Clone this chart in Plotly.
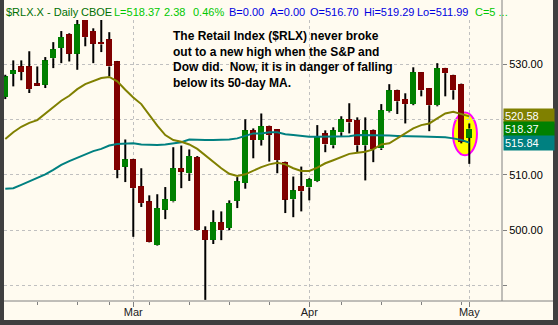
import datetime
import plotly.graph_objects as go

# ---------------- data ----------------
dates = [
    "2007-02-06", "2007-02-07", "2007-02-08", "2007-02-09", "2007-02-12", "2007-02-13",
    "2007-02-14", "2007-02-15", "2007-02-16", "2007-02-20", "2007-02-21", "2007-02-22",
    "2007-02-23", "2007-02-26", "2007-02-27", "2007-02-28", "2007-03-01", "2007-03-02",
    "2007-03-05", "2007-03-06", "2007-03-07", "2007-03-08", "2007-03-09", "2007-03-12",
    "2007-03-13", "2007-03-14", "2007-03-15", "2007-03-16", "2007-03-19", "2007-03-20",
    "2007-03-21", "2007-03-22", "2007-03-23", "2007-03-26", "2007-03-27", "2007-03-28",
    "2007-03-29", "2007-03-30", "2007-04-02", "2007-04-03", "2007-04-04", "2007-04-05",
    "2007-04-09", "2007-04-10", "2007-04-11", "2007-04-12", "2007-04-13", "2007-04-16",
    "2007-04-17", "2007-04-18", "2007-04-19", "2007-04-20", "2007-04-23", "2007-04-24",
    "2007-04-25", "2007-04-26", "2007-04-27", "2007-04-30", "2007-05-01",
]
opens = [
    524.1, 528.25, 529.6, 529.6, 526.55, 526.3, 531.1, 532.95, 535.4, 531.9,
    538.0, 536.0, 534.0, 534.5, 530.5, 511.45, 512.8, 507.95, 505.2, 497.3,
    503.7, 505.2, 511.2, 510.3, 513.2, 500.0, 498.25, 501.45, 500.4, 505.3,
    508.55, 518.05, 516.3, 518.8, 518.25, 512.3, 505.6, 508.0, 507.75, 508.85,
    517.5, 515.35, 517.7, 520.05, 519.9, 515.35, 518.05, 514.8, 521.5, 525.3,
    523.7, 522.8, 528.55, 525.65, 522.6, 529.3, 528.0, 526.4, 516.70,
]
highs = [
    528.1, 530.7, 530.7, 532.35, 529.6, 531.3, 534.0, 536.0, 535.6, 538.6,
    538.6, 536.5, 538.0, 535.8, 530.6, 516.4, 512.9, 511.2, 506.3, 506.5,
    507.8, 515.0, 515.3, 514.6, 513.4, 500.7, 503.6, 503.4, 505.4, 509.6,
    520.05, 518.4, 521.1, 518.9, 518.3, 512.4, 509.7, 511.5, 509.4, 519.0,
    518.05, 518.6, 520.6, 522.95, 520.4, 520.4, 518.2, 522.8, 526.4, 525.4,
    524.75, 529.45, 528.6, 525.7, 530.2, 529.35, 528.1, 526.5, 519.29,
]
lows = [
    523.7, 526.0, 527.1, 524.8, 526.1, 525.7, 529.3, 530.2, 530.5, 529.0,
    533.25, 530.2, 532.2, 527.8, 509.4, 508.7, 498.8, 504.2, 497.8, 497.2,
    502.0, 505.05, 507.6, 508.9, 499.9, 487.4, 497.5, 498.2, 500.0, 504.0,
    507.5, 513.0, 515.3, 512.4, 510.3, 503.1, 502.35, 503.4, 505.4, 508.7,
    514.1, 514.8, 517.0, 517.5, 514.1, 509.0, 512.3, 514.5, 521.3, 521.0,
    519.3, 522.6, 524.2, 517.9, 522.4, 524.2, 523.6, 515.7, 511.99,
]
closes = [
    527.8, 528.9, 528.6, 525.5, 526.2, 530.7, 532.7, 534.9, 531.9, 537.2,
    534.9, 533.7, 533.6, 529.6, 510.9, 512.8, 507.6, 504.9, 497.9, 504.0,
    505.6, 511.2, 510.6, 513.4, 500.0, 498.25, 501.45, 500.0, 504.9, 508.85,
    518.05, 516.3, 518.8, 517.2, 512.65, 505.55, 507.2, 507.05, 509.2, 516.8,
    515.5, 518.05, 520.05, 519.5, 515.35, 518.05, 514.6, 521.7, 525.3, 523.3,
    522.8, 528.55, 525.3, 522.6, 529.3, 528.4, 525.3, 515.99, 518.37,
]
ma20 = [
    516.5, 517.7, 518.7, 519.4, 519.9, 521.1, 522.3, 523.4, 524.3, 525.5, 526.4, 527.0,
    527.5, 527.7, 526.9, 525.4, 524.0, 522.8, 520.8, 518.9, 517.2, 516.3, 516.0, 515.5,
    514.7, 513.5, 512.4, 511.2, 510.2, 509.8, 510.1, 510.8, 511.4, 511.9, 512.2, 511.9,
    511.2, 510.7, 510.7, 511.3, 512.1, 512.65, 513.25, 513.8, 514.0, 514.2, 514.6, 515.5,
    515.7, 516.6, 517.5, 518.4, 519.0, 519.3, 520.2, 521.1, 521.4, 521.0, 520.58,
]
ma50 = [
    507.5, 507.6, 508.2, 508.8, 509.5, 510.1, 510.9, 511.8, 512.5, 513.1, 513.7, 514.3,
    514.7, 515.3, 515.6, 515.7, 515.7, 515.5, 515.4, 515.4, 515.5, 515.7, 515.9, 516.4,
    516.3, 516.3, 516.3, 516.3, 516.4, 516.6, 517.1, 517.5, 517.5, 517.7, 517.7, 517.35,
    517.2, 517.0, 516.9, 516.9, 516.9, 516.9, 516.9, 517.0, 517.2, 517.2, 517.2, 517.2,
    517.1, 517.05, 517.05, 517.0, 516.95, 516.9, 516.9, 516.8, 516.6, 516.3, 515.84,
]
y_tick_values = [490, 500, 510, 520, 530]
y_tick_labels = ["", "500.00", "510.00", "", "530.00"]
note_lines = [
    "The Retail Index ($RLX) never broke",
    "out to a new high when the S&amp;P and",
    "Dow did.&nbsp; Now, it is in danger of falling",
    "below its 50-day MA.",
]

# ---------------- styling ----------------
W, H = 558, 325
ML, MR, MT, MB = 4, 56, 20, 24
PW, PH = W - ML - MR, H - MT - MB
CREAM = "#FFFBF0"
DARK = "#3F3F3F"
UP, DOWN = "#008000", "#800000"
FONT = "Arial, Liberation Sans, sans-serif"


def px_x(px):
    return (px - ML) / PW


def px_y(py):
    return (H - MB - py) / PH


n = len(dates)
idx = list(range(n))
dts = [datetime.date.fromisoformat(d) for d in dates]

body_base = [min(o, c) for o, c in zip(opens, closes)]
body_h = [max(abs(c - o), 0.18) for o, c in zip(opens, closes)]
body_col = [UP if c >= o else DOWN for o, c in zip(opens, closes)]

wx, wy = [], []
for i in idx:
    top = max(opens[i], closes[i])
    bot = min(opens[i], closes[i])
    wx += [i, i, None, i, i, None]
    wy += [top, highs[i], None, bot, lows[i], None]

month_idx = [i for i in idx if i > 0 and dts[i].month != dts[i - 1].month]
month_txt = [dts[i].strftime("%b") for i in month_idx]
week_idx = [i for i in idx if i > 0 and dts[i].isocalendar()[1] != dts[i - 1].isocalendar()[1]]

fig = go.Figure()
fig.add_trace(go.Scatter(x=wx, y=wy, mode="lines", line=dict(color="black", width=2),
                         hoverinfo="skip", showlegend=False))
fig.add_trace(go.Bar(x=idx, y=body_h, base=body_base, width=0.75,
                     marker=dict(color=body_col, line=dict(width=0)), showlegend=False))
fig.add_trace(go.Scatter(x=idx, y=ma50, mode="lines", line=dict(color="#008080", width=2),
                         showlegend=False))
fig.add_trace(go.Scatter(x=idx, y=ma20, mode="lines", line=dict(color="#808000", width=2),
                         showlegend=False))

shapes = [
    dict(type="rect", xref="paper", yref="paper", x0=px_x(4), x1=px_x(553),
         y0=px_y(320), y1=px_y(0), fillcolor=CREAM, line=dict(width=0), layer="below"),
    dict(type="circle", xref="x", yref="y", x0=n - 3.04, x1=n - 0.04, y0=513.55, y1=521.3,
         fillcolor="#FFFF00", line=dict(color="#FF00FF", width=2), layer="below"),
    dict(type="line", xref="paper", yref="paper", x0=px_x(4), x1=px_x(553), y0=0, y1=0,
         line=dict(color="#808080", width=1)),
    dict(type="line", xref="paper", yref="paper", x0=1, x1=1, y0=0, y1=px_y(0),
         line=dict(color="#808080", width=1)),
]

ann = []
# header
last, prev = closes[-1], closes[-2]
chg = last - prev
pct = chg / prev * 100
header = [
    (3.6, "$RLX.X - Daily", "#007000"),
    (79, "CBOE", "#007000"),
    (112, f"L={last:.2f}", "#00C800"),
    (162, f"{chg:.2f}", "#00C800"),
    (191, f"{pct:.2f}%", "#00C800"),
    (227, "B=0.00", "#0000E0"),
    (267.6, "A=0.00", "#0000E0"),
    (308, f"O={opens[-1]:.2f}", "#0000E0"),
    (361.6, f"Hi={highs[-1]:.2f}", "#0000E0"),
    (414.6, f"Lo={lows[-1]:.2f}", "#0000E0"),
    (473, "C=5 ...", "#00C800"),
]
for xp, t, c in header:
    ann.append(dict(xref="paper", yref="paper", x=px_x(xp), y=px_y(11.5), xanchor="left",
                    yanchor="middle", text=t, showarrow=False,
                    font=dict(family=FONT, size=11, color=c)))

ann.append(dict(xref="paper", yref="paper", x=px_x(171), y=px_y(27), xanchor="left",
                yanchor="top", align="left", showarrow=False,
                text="<b>" + "<br>".join(note_lines) + "</b>",
                font=dict(family=FONT, size=12, color="black")))

# price boxes on the right axis
boxes = [(ma20[-1], "#808000", 116.2), (closes[-1], "#008000", 128.5), (ma50[-1], "#008080", 142.5)]
for v, col, ypx in boxes:
    ann.append(dict(xref="paper", yref="paper", x=px_x(503), y=px_y(ypx), xanchor="left",
                    yanchor="middle", text=f"{v:.2f}", showarrow=False, bgcolor=col,
                    width=48, height=12, align="left", borderpad=1,
                    font=dict(family=FONT, size=11, color="white")))

fig.update_layout(
    width=W, height=H,
    margin=dict(l=ML, r=MR, t=MT, b=MB, pad=0),
    paper_bgcolor=DARK, plot_bgcolor=CREAM,
    bargap=0, showlegend=False,
    shapes=shapes, annotations=ann,
    xaxis=dict(range=[-0.16, 62.09], tickvals=month_idx, ticktext=month_txt,
               ticks="outside", ticklen=5, tickcolor="#808080", ticklabelstandoff=-4,
               showgrid=True, gridcolor="#C0C0C0", griddash="dot", gridwidth=1,
               showline=False, zeroline=False,
               tickfont=dict(family=FONT, size=11, color="#202020"),
               minor=dict(tickvals=week_idx, ticks="outside", ticklen=3,
                          tickcolor="#808080", showgrid=False)),
    yaxis=dict(range=[487.2, 538.0], side="right", tickvals=y_tick_values,
               ticktext=y_tick_labels, ticks="outside", ticklen=4, tickcolor="#808080",
               showgrid=True, gridcolor="#C0C0C0", griddash="dot", gridwidth=1,
               showline=False, zeroline=False,
               tickfont=dict(family=FONT, size=11, color="#000000")),
)

fig.write_html("out.html")
